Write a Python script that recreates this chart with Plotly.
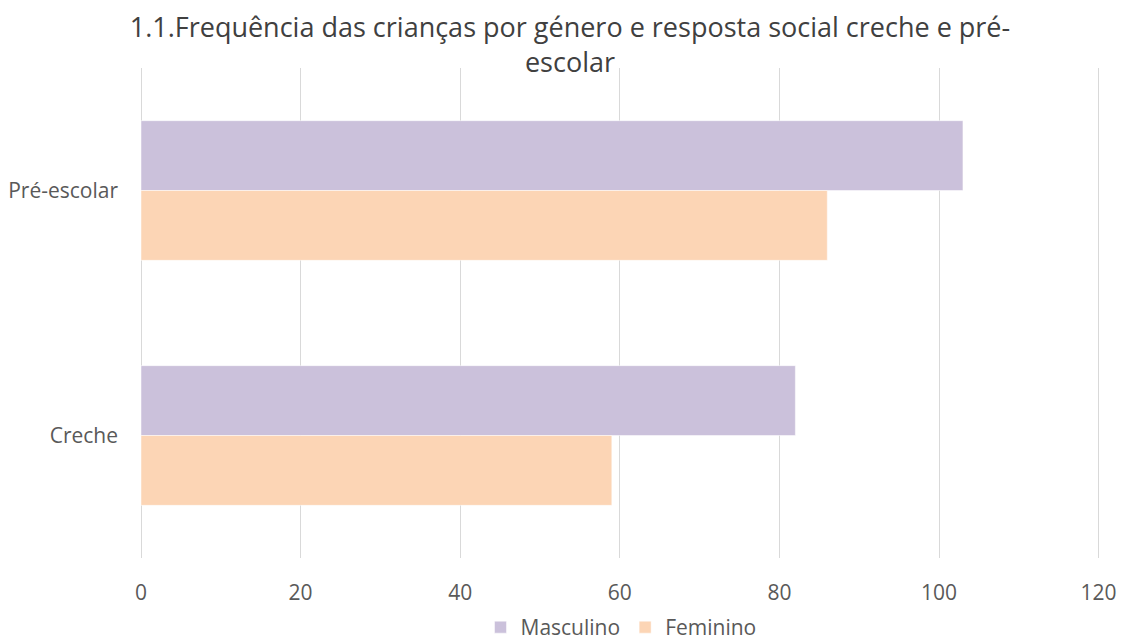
import plotly.graph_objects as go

categorias = ["Pré-escolar", "Creche"]
masculino = [103, 82]
feminino = [86, 59]
ticks_x = [0, 20, 40, 60, 80, 100, 120]

fig = go.Figure()
fig.add_trace(go.Bar(y=categorias, x=masculino, name="Masculino", orientation="h",
                     marker=dict(color="#CBC1DB")))
fig.add_trace(go.Bar(y=categorias, x=feminino, name="Feminino", orientation="h",
                     marker=dict(color="#FCD5B5")))

fig.update_layout(
    width=1122, height=643,
    template="simple_white",
    barmode="group",
    bargap=0.43, bargroupgap=0,
    font=dict(family="Open Sans", color="#595959", size=21),
    title=dict(text="1.1.Frequência das crianças por género e resposta social creche e pré-<br>escolar",
               x=0.508, xanchor="center", y=0.943, yanchor="top",
               font=dict(size=27, color="#404040")),
    margin=dict(l=141, r=21, t=68, b=85, autoexpand=False),
    xaxis=dict(range=[0, 120.3], tickvals=ticks_x, showline=False, ticks="",
               showgrid=True, gridcolor="#D9D9D9", gridwidth=1.3,
               zeroline=True, zerolinecolor="#D9D9D9", zerolinewidth=1.3,
               ticklabelstandoff=20, tickfont=dict(size=21), automargin=False),
    yaxis=dict(autorange="reversed", showline=False, ticks="", ticklabelstandoff=22,
               tickfont=dict(size=21), automargin=False),
    legend=dict(orientation="h", x=0.5, xanchor="center", y=-0.10, yanchor="top",
                font=dict(size=21)),
    plot_bgcolor="white", paper_bgcolor="white",
)

fig.write_html("out.html", config={"displayModeBar": False},
               post_script="document.body.style.margin='0';")
